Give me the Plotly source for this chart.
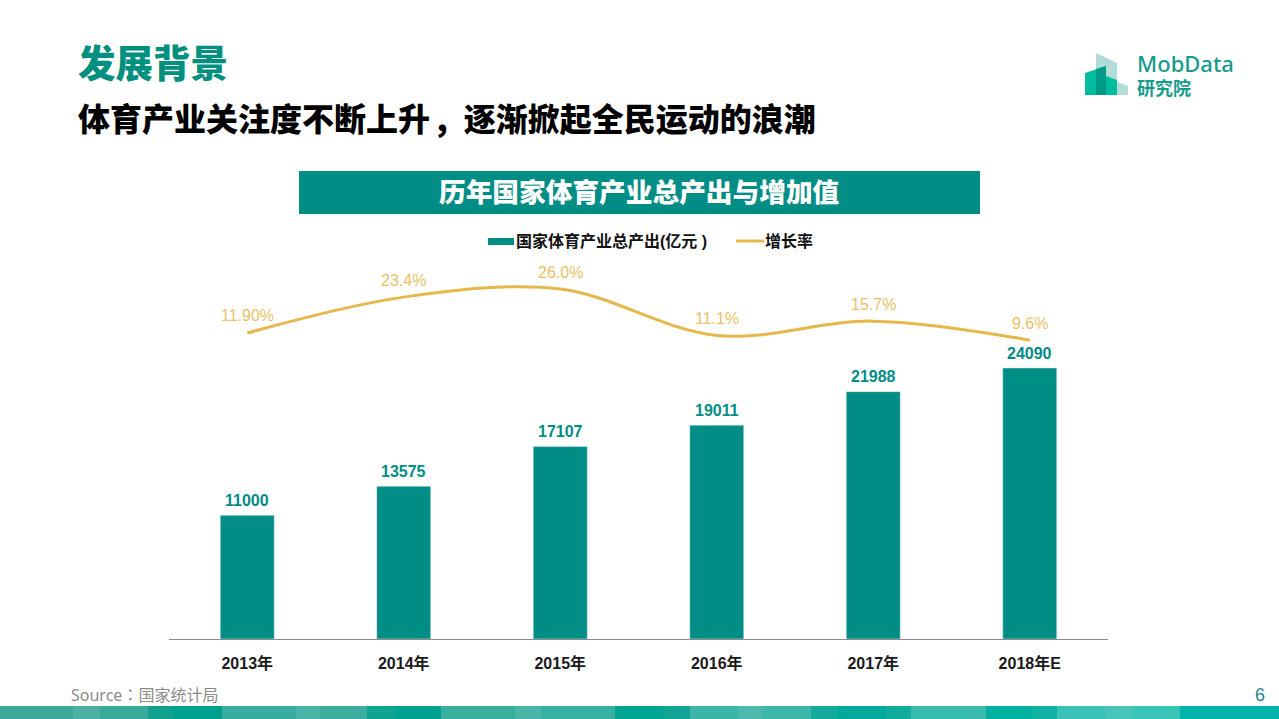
import plotly.graph_objects as go

W = 1279
H = 719

years = ['2013年', '2014年', '2015年', '2016年', '2017年', '2018年E']
output = [11000, 13575, 17107, 19011, 21988, 24090]
growth = [11.9, 23.4, 26.0, 11.1, 15.7, 9.6]
growth_labels = ['11.90%', '23.4%', '26.0%', '11.1%', '15.7%', '9.6%']

TEAL = '#008d85'
GOLD = '#e6b84c'
FONT = 'Liberation Sans, Noto Sans CJK SC, sans-serif'
CJK = 'Noto Sans CJK SC, sans-serif'
COLON_FONT = 'font-family:Noto Sans CJK TC'

# footer band: right edge and colour of each block
band_edges = [73, 100, 148, 173, 222, 296, 320, 367, 396, 441, 515, 541, 615, 664, 690,
              738, 763, 811, 837, 886, 911, 986, 1032, 1057, 1105, 1132, 1180, 1279]
band_colors = ['#3aa99c', '#4db0a5', '#3aaa9d', '#12a08f', '#00a08e', '#38ac9e', '#4ab2a6',
               '#3caea0', '#0fa392', '#00a391', '#38ae9f', '#47b5a8', '#38b0a2', '#00a594',
               '#12a595', '#3cb4a6', '#4cb9ac', '#3cb7a9', '#14ab9a', '#00a99a', '#12ac9c',
               '#39bcae', '#00b0a1', '#12b1a4', '#3ac2b6', '#48c5ba', '#3ac4b8', '#00b4aa']


def px(x):
    return x / W


def py(y):
    return 1 - y / H


def rect(x0, y0, x1, y1, color):
    return dict(type='rect', xref='paper', yref='paper', x0=px(x0), x1=px(x1), y0=py(y1), y1=py(y0),
                fillcolor=color, line_width=0, layer='below')


def poly(points, color):
    path = 'M' + ' L'.join(f'{px(a):.5f},{py(b):.5f}' for a, b in points) + ' Z'
    return dict(type='path', xref='paper', yref='paper', path=path, fillcolor=color, line_width=0)


def label(x, y, text, size, color, weight=400, anchor='left', family=FONT):
    return dict(xref='paper', yref='paper', x=px(x), y=py(y), text=text, showarrow=False,
                xanchor=anchor, yanchor='middle', align=anchor,
                font=dict(family=family, size=size, color=color, weight=weight))


fig = go.Figure()
fig.add_bar(x=years, y=output, marker_color=TEAL, width=0.345, showlegend=False, hoverinfo='x+y')
fig.add_scatter(x=years, y=growth, yaxis='y2', mode='lines', showlegend=False,
                line=dict(color=GOLD, width=3, shape='spline', smoothing=1.0))

shapes = []
left = 0
for edge, color in zip(band_edges, band_colors):
    shapes.append(rect(left, 706, edge, 719, color))
    left = edge

shapes.append(rect(299, 171, 980, 214, TEAL))

# legend
shapes.append(rect(488, 238, 514, 245, TEAL))
shapes.append(dict(type='line', xref='paper', yref='paper', x0=px(736), x1=px(764), y0=py(241), y1=py(241),
                   line=dict(color=GOLD, width=3)))

# logo
shapes.append(poly([(1096, 53), (1117, 63), (1117, 95), (1096, 95)], '#b2dcd8'))
shapes.append(poly([(1117, 82), (1128, 86), (1128, 95), (1117, 95)], '#b2dcd8'))
shapes.append(poly([(1085, 73), (1106, 66), (1106, 95), (1085, 95)], '#00bd9d'))
shapes.append(poly([(1106, 76), (1117, 80), (1117, 95), (1106, 95)], '#00bd9d'))
shapes.append(poly([(1096, 69), (1106, 66), (1106, 95), (1096, 95)], '#009b88'))

subtitle = '体育产业关注度不断上升\u2009,\u2002逐渐掀起全民运动的浪潮'
source = f'Source<span style="{COLON_FONT}">：</span>国家统计局'
logo_text = '<span style="font-size:22px;font-weight:500">MobData</span><br><b>研究院</b>'

annotations = [
    label(76, 60, '发展背景', 37.5, '#00907f', 900, family=CJK),
    label(76, 117, subtitle, 32, '#000000', 900, family=CJK),
    label(638.5, 190, '历年国家体育产业总产出与增加值', 26.7, '#ffffff', 900, 'center', CJK),
    label(514, 241, '国家体育产业总产出(亿元 )', 16, '#111111', 700),
    label(763, 241, '增长率', 16, '#111111', 700),
    label(1135, 74, logo_text, 18, '#169b8d', family='Noto Sans, Noto Sans CJK SC, sans-serif'),
    label(69, 694, source, 16, '#8c8c8c', family='Noto Sans, Noto Sans CJK SC, sans-serif'),
    label(1260, 695, '6', 18, '#2a7f8f', anchor='center'),
]

for yr, val in zip(years, output):
    annotations.append(dict(x=yr, y=val, xref='x', yref='y', text=str(val), showarrow=False,
                            yanchor='middle', yshift=15,
                            font=dict(family=FONT, size=16, color=TEAL, weight=700)))

for yr, val, txt in zip(years, growth, growth_labels):
    annotations.append(dict(x=yr, y=val, xref='x', yref='y2', text=txt, showarrow=False,
                            yanchor='middle', yshift=17,
                            font=dict(family=FONT, size=16, color='#ecbf66')))

fig.update_layout(
    width=W, height=H, autosize=False,
    margin=dict(l=0, r=0, t=0, b=0),
    paper_bgcolor='white', plot_bgcolor='white',
    shapes=shapes, annotations=annotations,
    xaxis=dict(domain=[px(169), px(1108)], type='category', showgrid=False, zeroline=False,
               showline=True, linecolor='#8c8c8c', linewidth=1, ticks='', ticklabelstandoff=10,
               tickfont=dict(family=FONT, size=16, color='#1a1a1a', weight=700)),
    yaxis=dict(domain=[py(639), py(260)], range=[0, 33690], visible=False),
    yaxis2=dict(domain=[py(639), py(260)], range=[-86.2, 35.3], overlaying='y', visible=False),
)

fig.write_html("out.html", config={'displayModeBar': False}, post_script="document.body.style.margin='0';")
